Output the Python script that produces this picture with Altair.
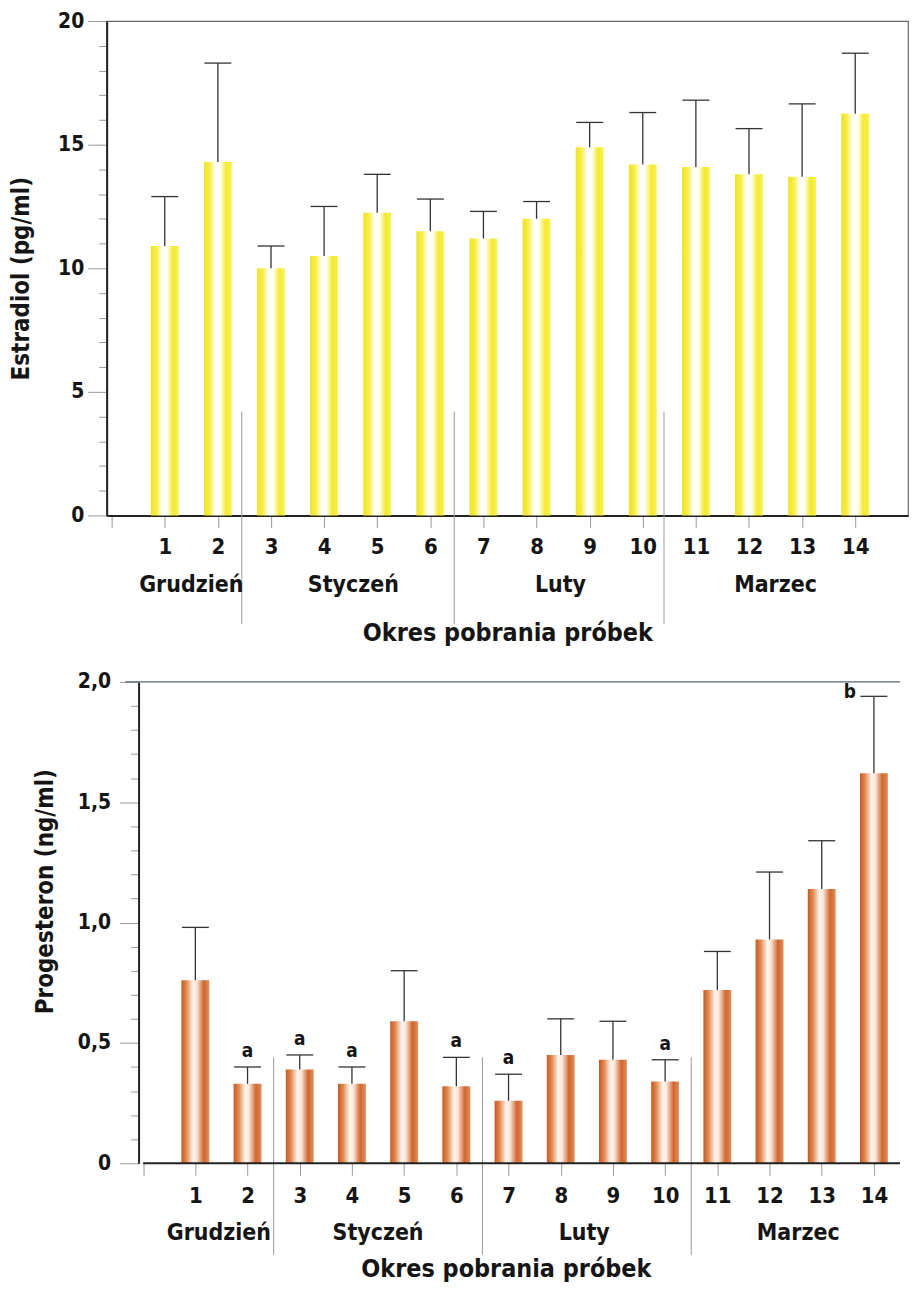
import altair as alt
import pandas as pd

# ---------------- data ----------------
samples = list(range(1, 15))
est_mean = [10.9, 14.3, 10.0, 10.5, 12.25, 11.5, 11.2, 12.0, 14.9, 14.2, 14.1, 13.8, 13.7, 16.25]
est_upper = [12.9, 18.3, 10.9, 12.5, 13.8, 12.8, 12.3, 12.7, 15.9, 16.3, 16.8, 15.65, 16.65, 18.7]

prog_mean = [0.76, 0.33, 0.39, 0.33, 0.59, 0.32, 0.26, 0.45, 0.43, 0.34, 0.72, 0.93, 1.14, 1.62]
prog_upper = [0.98, 0.40, 0.45, 0.40, 0.80, 0.44, 0.37, 0.60, 0.59, 0.43, 0.88, 1.21, 1.34, 1.94]
prog_letters = ["", "a", "a", "a", "", "a", "a", "", "", "a", "", "", "", "b"]

months = ["Grudzień", "Styczeń", "Luty", "Marzec"]
month_pos_top = [1.5, 4.55, 8.45, 12.5]
month_pos_bot = [1.45, 4.5, 8.45, 12.55]
sep_pos_top = [2.45, 6.45, 10.4]
sep_pos_bot = [2.5, 6.5, 10.5]

x_ticks = list(range(0, 15))
est_ticks = list(range(0, 21))
prog_ticks = [i / 10 for i in range(0, 21)]

FONT = "'Liberation Sans Narrow', 'DejaVu Sans Condensed', 'Arial Narrow', sans-serif"
INK = "#151515"

est_df = pd.DataFrame({"n": samples, "mean": est_mean, "upper": est_upper})
prog_df = pd.DataFrame({"n": samples, "mean": prog_mean, "upper": prog_upper, "letter": prog_letters})
mon_top = pd.DataFrame({"month": months, "pos": month_pos_top})
mon_bot = pd.DataFrame({"month": months, "pos": month_pos_bot})
sep_top = pd.DataFrame({"pos": sep_pos_top})
sep_bot = pd.DataFrame({"pos": sep_pos_bot})

yellow = alt.Gradient(
    gradient="linear", x1=0, x2=1, y1=0, y2=0,
    stops=[
        alt.GradientStop(color="#eee22a", offset=0),
        alt.GradientStop(color="#f6ee45", offset=0.2),
        alt.GradientStop(color="#ffffff", offset=0.42),
        alt.GradientStop(color="#fffff2", offset=0.58),
        alt.GradientStop(color="#f3ea2e", offset=0.8),
        alt.GradientStop(color="#f8f25a", offset=1),
    ],
)
copper = alt.Gradient(
    gradient="linear", x1=0, x2=1, y1=0, y2=0,
    stops=[
        alt.GradientStop(color="#c65a22", offset=0),
        alt.GradientStop(color="#e08850", offset=0.18),
        alt.GradientStop(color="#fff6ee", offset=0.42),
        alt.GradientStop(color="#fbe6d8", offset=0.55),
        alt.GradientStop(color="#d0662e", offset=0.8),
        alt.GradientStop(color="#e0905e", offset=1),
    ],
)


def panel(df, mon_df, sep_df, grad, ymax, yticks, ylabel_expr, major_test, ytitle,
          ytitle_pad, ytitle_y, ylabel_pad, xmin, xmax, month_y, sep_y1, sep_y2,
          xlabel_pad, xtitle_pad, y_offset, x_domain_line):
    xs = alt.Scale(domain=[xmin, xmax], nice=False, zero=False)
    ys = alt.Scale(domain=[0, ymax], nice=False, zero=True)
    xa = alt.Axis(
        values=x_ticks,
        labelExpr="datum.value === 0 ? '' : datum.label",
        tickSize=12, tickColor="#999999", tickWidth=1,
        domain=x_domain_line, domainColor="#222222", domainWidth=2,
        labelFont=FONT, labelFontSize=22, labelFontWeight="bold", labelColor=INK,
        labelPadding=xlabel_pad, labelFlush=False, labelOverlap=False,
        title="Okres pobrania próbek", titleFont=FONT, titleFontSize=25,
        titleFontWeight="bold", titleColor=INK, titlePadding=xtitle_pad,
        grid=False,
    )
    ya = alt.Axis(
        values=yticks, labelExpr=ylabel_expr,
        tickSize={"condition": {"test": major_test, "value": 19}, "value": 8},
        tickColor="#999999", tickWidth=1,
        domainColor="#222222", domainWidth=2,
        labelFont=FONT, labelFontSize=21, labelFontWeight="bold", labelColor=INK,
        labelPadding=ylabel_pad, labelOverlap=False,
        title=ytitle, titleFont=FONT, titleFontSize=24, titleFontWeight="bold",
        titleColor=INK, titlePadding=ytitle_pad, titleY=ytitle_y,
        grid=False, offset=y_offset,
    )

    def X(field):
        return alt.X(field, type="quantitative", scale=xs, axis=xa)

    def Y(field):
        return alt.Y(field, type="quantitative", scale=ys, axis=ya)

    base = alt.Chart(df)
    bars = base.mark_bar(size=28, color=grad).encode(x=X("n"), y=Y("mean"))
    stem = base.mark_rule(color="#333333", strokeWidth=1.3).encode(
        x=X("n"), y=Y("mean"), y2="upper")
    cap = base.mark_rule(color="#333333", strokeWidth=1.3, xOffset=-13.5, x2Offset=13.5).encode(
        x=X("n"), x2="n", y=Y("upper"))
    seps = alt.Chart(sep_df).mark_rule(color="#9a9a9a", strokeWidth=1).encode(
        x=X("pos"), y=alt.YDatum(sep_y1, scale=ys, axis=ya), y2=alt.Y2Datum(sep_y2))
    mlabels = alt.Chart(mon_df).mark_text(
        font=FONT, fontSize=23, fontWeight="bold", color=INK, baseline="middle").encode(
        x=X("pos"), y=alt.YDatum(month_y, scale=ys, axis=ya), text="month:N")
    return [seps, bars, stem, cap, mlabels], X, Y, xs, ys, xa, ya


# ---------------- upper panel: estradiol ----------------
top_layers, Xt, Yt, *_ = panel(
    est_df, mon_top, sep_top, yellow, 20, est_ticks,
    "datum.value % 5 === 0 ? datum.label : ''", "datum.value % 5 === 0",
    "Estradiol (pg/ml)", 24, 258, 4, 0, 14.9, -2.8, 4.2, -4.4, 9, 63, 0, True)

top = alt.layer(*top_layers).properties(
    width=804, height=496,
    view=alt.ViewBackground(stroke="#6a6a6a", strokeWidth=1.2),
)

# ---------------- lower panel: progesterone ----------------
# the lower panel's y axis sits 32 px to the right of the upper one
BOT_W = 801
BOT_XMAX = 14.5
SHIFT = 32
bot_xmin = -SHIFT * BOT_XMAX / (BOT_W - SHIFT)

bot_layers, Xb, Yb, xs_b, ys_b, xa_b, ya_b = panel(
    prog_df, mon_bot, sep_bot, copper, 2.0, prog_ticks,
    "round(datum.value * 10) % 5 === 0 ? (datum.value === 0 ? '0' : replace(format(datum.value, '.1f'), '.', ',')) : ''",
    "round(datum.value * 10) % 5 === 0",
    "Progesteron (ng/ml)", 20, 210, 9, bot_xmin, BOT_XMAX, -0.29, 0.44, -0.38, 10, 51, -SHIFT, False)

x_line = alt.Chart(prog_df.head(1)).mark_rule(color="#222222", strokeWidth=2).encode(
    x=alt.XDatum(0, scale=xs_b, axis=xa_b), x2=alt.X2Datum(BOT_XMAX),
    y=alt.YDatum(0, scale=ys_b, axis=ya_b))
top_line = alt.Chart(prog_df.head(1)).mark_rule(color="#5a6478", strokeWidth=1.3, xOffset=-18).encode(
    x=alt.XDatum(0, scale=xs_b, axis=xa_b), x2=alt.X2Datum(BOT_XMAX),
    y=alt.YDatum(2.0, scale=ys_b, axis=ya_b))

letters_a = alt.Chart(prog_df).transform_filter("datum.letter === 'a'").mark_text(
    font=FONT, fontSize=19, fontWeight="bold", color=INK, baseline="alphabetic", dy=-10).encode(
    x=Xb("n"), y=Yb("upper"), text="letter:N")
letters_b = alt.Chart(prog_df).transform_filter("datum.letter === 'b'").mark_text(
    font=FONT, fontSize=19, fontWeight="bold", color=INK, baseline="alphabetic", align="right",
    dx=-18, dy=2).encode(
    x=Xb("n"), y=Yb("upper"), text="letter:N")

bottom = alt.layer(*bot_layers, x_line, top_line, letters_a, letters_b).properties(
    width=BOT_W, height=483,
    view=alt.ViewBackground(stroke=None),
)

chart = alt.vconcat(top, bottom, spacing=167, bounds="flush").properties(
    padding={"left": 1, "top": -1, "right": 0, "bottom": 0},
    background="white",
).configure_view(stroke=None)

chart.save("out.html", embed_options={"renderer": "svg", "actions": False})
